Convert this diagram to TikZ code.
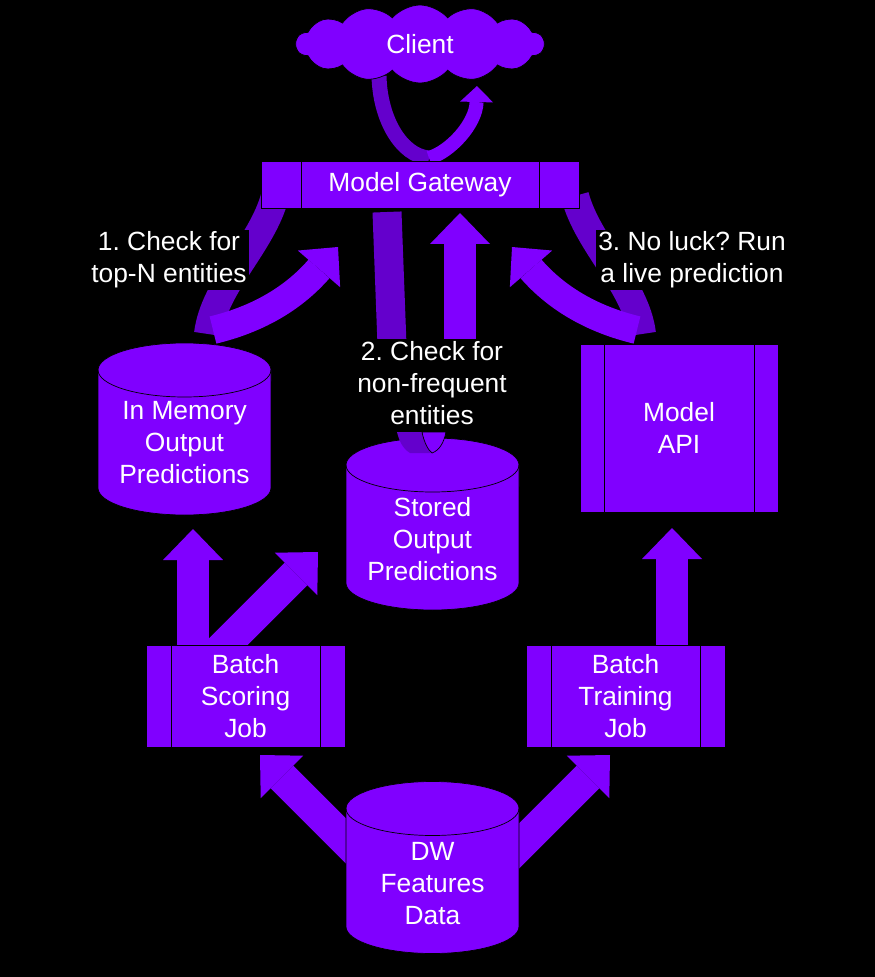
\documentclass[tikz,border=0pt]{standalone}
\usepackage{fontspec}
\setmainfont{Liberation Sans}
\usetikzlibrary{arrows.meta,shapes.symbols}

\definecolor{boxfill}{HTML}{8000FF}
\definecolor{ribbonback}{HTML}{6400CC}

\tikzset{box text/.style={text=white,align=center,font=\fontsize{15}{18.2}\selectfont},
process/.style={box text,rectangle,draw=black,thin,fill=boxfill,inner sep=0cm,
  path picture={\draw [black,thin] ([xshift=#1]path picture bounding box.south west) -- ([xshift=#1]path picture bounding box.north west);
                \draw [black,thin] ([xshift=-#1]path picture bounding box.south east) -- ([xshift=-#1]path picture bounding box.north east);}},
store/.pic={\filldraw [fill=boxfill,draw=black,thin] (-86.5,-59) -- (-86.5,59) arc [start angle=180,end angle=360,x radius=1.73cm,y radius=0.54cm]
                -- (86.5,-59) arc [start angle=0,end angle=180,x radius=1.73cm,y radius=0.54cm] -- cycle;
            \draw [black,thin] (-86.5,-59) arc [start angle=180,end angle=360,x radius=1.73cm,y radius=0.54cm];},
sky/.style={box text,cloud,cloud puffs=14,cloud puff arc=100,cloud ignores aspect,draw=black,thin,fill=boxfill,minimum width=4.96cm,minimum height=1.56cm},
step label/.style={box text,fill=black,inner sep=0.04cm},
block arrow/.style={draw=boxfill,line width=0.64cm,-{Triangle[width=1.2cm,length=0.62cm,line width=0pt]}},
ribbon front/.style={draw=boxfill,line width=0.56cm,-{Triangle[width=1.12cm,length=0.58cm,line width=0pt]}},
ribbon back/.style={draw=ribbonback,line width=0.56cm},
uturn front/.style={draw=boxfill,line width=0.28cm,-{Triangle[width=0.66cm,length=0.32cm,line width=0pt]}},
uturn back/.style={draw=ribbonback,line width=0.3cm}}

\begin{document}
\frenchspacing
\begin{tikzpicture}[x=0.02cm,y=-0.02cm,line cap=butt]
\useasboundingbox (0,0) rectangle (875,977);
\fill [black] (0,0) rectangle (875,977);

%% Coordinates of nodes.
\coordinate (nclient) at (420,44);
\coordinate (ngw) at (420,185);
\coordinate (ninmem) at (184.5,429);
\coordinate (ninmemt) at (184.5,443);
\coordinate (nstored) at (432.5,524);
\coordinate (nstoredt) at (432.5,539);
\coordinate (napi) at (679,428);
\coordinate (nscore) at (245.5,696);
\coordinate (ntrain) at (625.5,696);
\coordinate (ndw) at (432.5,867.5);
\coordinate (ndwt) at (432.5,884);

%% Coordinates of arrow ends.
\coordinate (u0) at (379,76);
\coordinate (u1) at (429,158);
\coordinate (u2) at (477,86);
\coordinate (l0) at (275,196);
\coordinate (l1) at (208,334);
\coordinate (l1p) at (213,330);
\coordinate (l2) at (338,247);
\coordinate (r0) at (575,196);
\coordinate (r1) at (642,334);
\coordinate (r1p) at (637,330);
\coordinate (r2) at (512,247);
\coordinate (m0) at (387,212);
\coordinate (m1) at (392,345);
\coordinate (m2) at (460,345);
\coordinate (m3) at (460,213);
\coordinate (s0) at (193,665);
\coordinate (s1) at (193,529);
\coordinate (s2) at (205,665);
\coordinate (s3) at (318,552);
\coordinate (t0) at (672,665);
\coordinate (t1) at (672,528);
\coordinate (d0) at (372,867);
\coordinate (d1) at (260,755);
\coordinate (d2) at (498,867);
\coordinate (d3) at (610,755);

%% ribbons
\draw [uturn back] (u0) .. controls (380,120) and (402,156) .. (u1);
\draw [uturn front] (u1) .. controls (450,152) and (476,124) .. (u2);
\draw [ribbon back] (l0) .. controls (262,245) and (214,285) .. (l1);
\draw [ribbon front] (l1p) .. controls (255,320) and (292,300) .. (l2);
\draw [ribbon back] (r0) .. controls (588,245) and (636,285) .. (r1);
\draw [ribbon front] (r1p) .. controls (595,320) and (558,300) .. (r2);
\draw [ribbon back,line width=0.58cm] (m0) -- (m1);
\draw [block arrow] (m2) -- (m3);

%% block arrows
\draw [block arrow] (s0) -- (s1);
\draw [block arrow] (s2) -- (s3);
\draw [block arrow] (t0) -- (t1);
\draw [block arrow] (d0) -- (d1);
\draw [block arrow] (d2) -- (d3);

%% boxes
\node [sky] (client) at (nclient) {Client};
\node [process=0.8cm,minimum width=6.36cm,minimum height=0.94cm] (gw) at (ngw) {Model Gateway};
\node [process=0.48cm,minimum width=3.96cm,minimum height=3.36cm] (api) at (napi) {Model\\API};
\node [process=0.5cm,minimum width=3.98cm,minimum height=2.04cm] (score) at (nscore) {Batch\\Scoring\\Job};
\node [process=0.5cm,minimum width=3.98cm,minimum height=2.04cm] (train) at (ntrain) {Batch\\Training\\Job};

%% stores
\pic at (ninmem) {store};
\node [box text] (inmem) at (ninmemt) {In Memory\\Output\\Predictions};
\pic at (nstored) {store};
\node [box text] (stored) at (nstoredt) {Stored\\Output\\Predictions};
\pic at (ndw) {store};
\node [box text] (dw) at (ndwt) {DW\\Features\\Data};

% twist of the middle ribbon
\fill [ribbonback] (397,432) -- (422,432) .. controls (424,442) and (428,450) .. (432,453) -- (410,453) .. controls (402,448) and (399,440) .. cycle;
\filldraw [fill=boxfill,draw=black,thin] (422,432) -- (446,432) .. controls (444,442) and (440,450) .. (432,453) .. controls (428,450) and (424,442) .. cycle;

%% step labels
\node [step label] (q1) at (169,260) {1. Check for\\top-N entities};
\node [step label] (q2) at (432,383) {2. Check for\\non-frequent\\entities};
\node [step label] (q3) at (692,260) {3. No luck? Run\\a live prediction};

\end{tikzpicture}
\end{document}
